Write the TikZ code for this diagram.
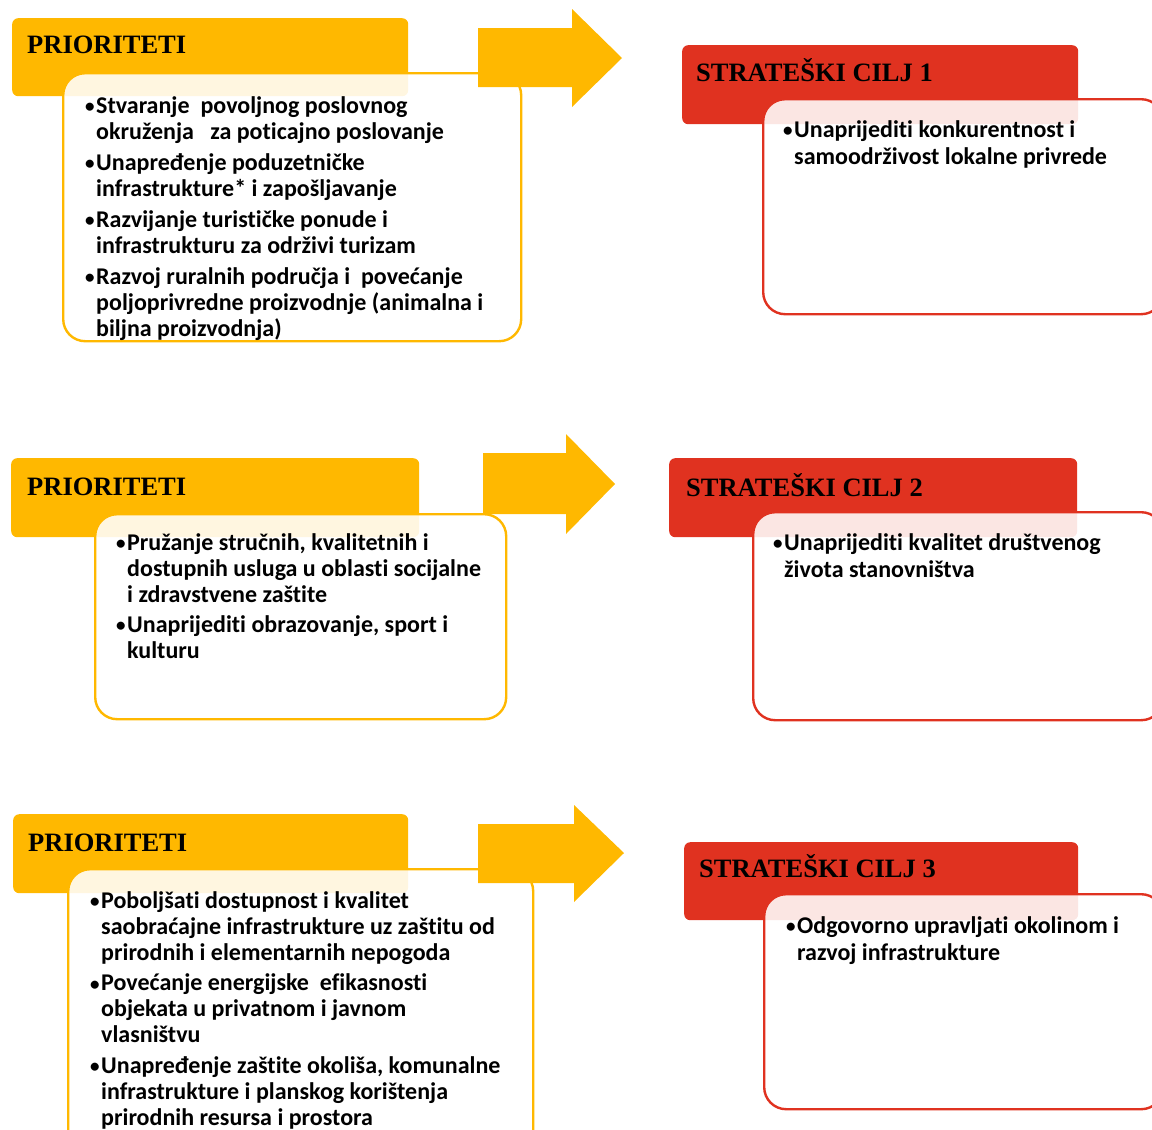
\documentclass[tikz,border=0pt]{standalone}
\usepackage{fontspec}
\setmainfont[Ligatures=NoCommon]{Carlito}
\newfontfamily\ttlfont{Liberation Serif}
\definecolor{gold}{RGB}{255,184,0}
\definecolor{redc}{RGB}{224,50,32}
\newcommand\bul{\llap{\raisebox{0.5pt}{\fontsize{19}{19}\selectfont •}\kern1.5pt}}
\tikzset{
  hdr/.style={anchor=north west, inner sep=0pt, rounded corners=6pt},
  yhdr/.style={hdr, fill=gold},
  rhdr/.style={hdr, fill=redc},
  boxbase/.style={anchor=north west, inner sep=0pt, rounded corners=22pt, line width=2.4pt, fill=white, fill opacity=0.88},
  ybox/.style={boxbase, draw=gold},
  rbox/.style={boxbase, draw=redc},
  arrowfill/.style={fill=gold},
  ttl/.style={anchor=base west, inner sep=0pt, font=\ttlfont\fontsize{26.5}{30}\selectfont\bfseries},
  txt/.style={anchor=base west, inner sep=0pt, font=\fontsize{24}{26}\selectfont\bfseries},
  txtr/.style={anchor=base west, inner sep=0pt, font=\fontsize{24}{27.5}\selectfont\bfseries},
}
\begin{document}
\begin{tikzpicture}[x=1pt,y=-1pt]
\useasboundingbox (0,0) rectangle (1152,1130);
\clip (0,0) rectangle (1152,1130);

% ---------- Group 1 ----------
\node[yhdr, minimum width=396pt, minimum height=78pt] (h1) at (12,18) {};
\node[ybox, minimum width=458pt, minimum height=268pt] (b1) at (62,72) {};
\fill[arrowfill] (478,28) -- (572,28) -- (572,9) -- (622,58) -- (572,107) -- (572,87) -- (478,87) -- cycle;
\node[rhdr, minimum width=396pt, minimum height=79pt] (rh1) at (682,45) {};
\node[rbox, minimum width=400pt, minimum height=215pt] (rb1) at (762,98) {};

% ---------- Group 2 ----------
\node[yhdr, minimum width=408pt, minimum height=79pt] (h2) at (11,458) {};
\node[ybox, minimum width=411pt, minimum height=205pt] (b2) at (94,513) {};
\fill[arrowfill] (483,453) -- (566,453) -- (566,434) -- (615,484) -- (566,534) -- (566,514) -- (483,514) -- cycle;
\node[rhdr, minimum width=408pt, minimum height=79pt] (rh2) at (669,458) {};
\node[rbox, minimum width=410pt, minimum height=208pt] (rb2) at (752,511) {};

% ---------- Group 3 ----------
\node[yhdr, minimum width=395pt, minimum height=79pt] (h3) at (13,814) {};
\node[ybox, minimum width=465pt, minimum height=292pt] (b3) at (67,868) {};
\fill[arrowfill] (478,824) -- (574,824) -- (574,805) -- (624,853) -- (574,902) -- (574,883) -- (478,883) -- cycle;
\node[rhdr, minimum width=394pt, minimum height=78pt] (rh3) at (684,842) {};
\node[rbox, minimum width=399pt, minimum height=215pt] (rb3) at (763,893) {};

% ---------- Titles ----------
\node[ttl] (t1) at (27,53) {PRIORITETI};
\node[ttl] (t2) at (27,495) {PRIORITETI};
\node[ttl] (t3) at (28,851) {PRIORITETI};
\node[ttl] (s1) at (696,81) {STRATEŠKI CILJ 1};
\node[ttl] (s2) at (686,496) {STRATEŠKI CILJ 2};
\node[ttl] (s3) at (699,877) {STRATEŠKI CILJ 3};

% ---------- Texts ----------
\node[txt] (p1) at (96,113) {\begin{tabular}[t]{@{}l@{}}
\bul Stvaranje\ \ povoljnog poslovnog\\
okruženja\ \ \ za poticajno poslovanje\\[5pt]
\bul Unapređenje poduzetničke\\
infrastrukture* i zapošljavanje\\[5pt]
\bul Razvijanje turističke ponude i\\
infrastrukturu za održivi turizam\\[5pt]
\bul Razvoj ruralnih područja i\ \ povećanje\\
poljoprivredne proizvodnje (animalna i\\
biljna proizvodnja)
\end{tabular}};

\node[txtr] (c1) at (794,137) {\begin{tabular}[t]{@{}l@{}}
\bul Unaprijediti konkurentnost i\\
samoodrživost lokalne privrede
\end{tabular}};

\node[txt] (p2) at (127,550) {\begin{tabular}[t]{@{}l@{}}
\bul Pružanje stručnih, kvalitetnih i\\
dostupnih usluga u oblasti socijalne\\
i zdravstvene zaštite\\[4pt]
\bul Unaprijediti obrazovanje, sport i\\
kulturu
\end{tabular}};

\node[txtr] (c2) at (784,550) {\begin{tabular}[t]{@{}l@{}}
\bul Unaprijediti kvalitet društvenog\\
života stanovništva
\end{tabular}};

\node[txt] (p3) at (101,908) {\begin{tabular}[t]{@{}l@{}}
\bul Poboljšati dostupnost i kvalitet\\
saobraćajne infrastrukture uz zaštitu od\\
prirodnih i elementarnih nepogoda\\[4.5pt]
\bul Povećanje energijske\ \ efikasnosti\\
objekata u privatnom i javnom\\
vlasništvu\\[4.5pt]
\bul Unapređenje zaštite okoliša, komunalne\\
infrastrukture i planskog korištenja\\
prirodnih resursa i prostora
\end{tabular}};

\node[txtr] (c3) at (797,933) {\begin{tabular}[t]{@{}l@{}}
\bul Odgovorno upravljati okolinom i\\
razvoj infrastrukture
\end{tabular}};
\end{tikzpicture}
\end{document}
